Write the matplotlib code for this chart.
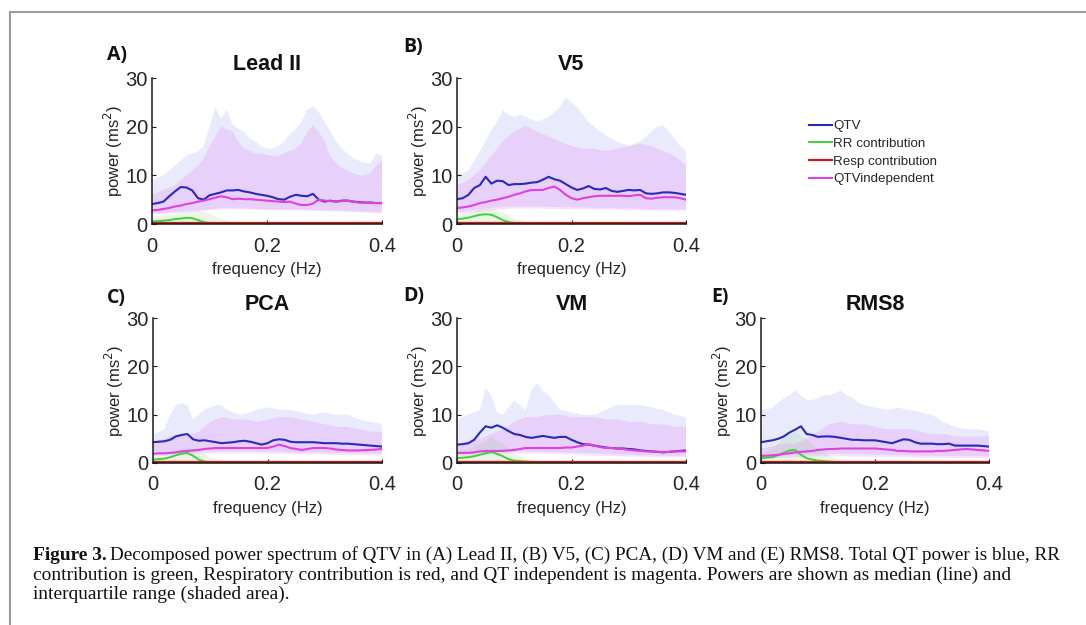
import numpy as np
import matplotlib
matplotlib.use("Agg")
import matplotlib.pyplot as plt
from matplotlib.lines import Line2D

# ---------------- data ----------------
freq_fine = [round(0.01 * i, 2) for i in range(41)]
freq_coarse = [round(0.02 * i, 2) for i in range(21)]

panel_titles = ["Lead II", "V5", "PCA", "VM", "RMS8"]
panel_letters = ["A)", "B)", "C)", "D)", "E)"]
legend_labels = ["QTV", "RR contribution", "Resp contribution", "QTVindependent"]
x_ticks = [0, 0.2, 0.4]
x_tick_labels = ["0", "0.2", "0.4"]
y_ticks = [0, 10, 20, 30]

# Lead II
leadII_qtv = [4.1, 4.3, 4.6, 5.7, 6.7, 7.6, 7.5, 6.9, 5.3, 5.0, 5.9, 6.2, 6.5, 6.9, 6.9, 7.0, 6.7, 6.5, 6.2, 6.0,
              5.8, 5.5, 5.1, 5.0, 5.6, 6.0, 5.8, 5.7, 6.2, 5.0, 4.6, 4.8, 4.6, 4.8, 4.8, 4.6, 4.5, 4.4, 4.4, 4.3, 4.3]
leadII_indep = [2.8, 2.9, 3.1, 3.3, 3.6, 3.8, 4.1, 4.3, 4.6, 4.8, 5.1, 5.4, 5.7, 5.5, 5.1, 5.2, 5.1, 5.1, 5.0, 4.9,
                4.8, 4.7, 4.6, 4.5, 4.6, 4.2, 3.9, 3.9, 4.2, 5.0, 4.8, 4.7, 4.6, 4.7, 4.8, 4.6, 4.4, 4.4, 4.3, 4.3, 4.3]
leadII_rr = [0.5, 0.6, 0.7, 0.8, 1.0, 1.1, 1.3, 1.2, 0.8, 0.4, 0.2, 0.15, 0.1, 0.1, 0.1, 0.1, 0.1, 0.1, 0.1, 0.1,
             0.1, 0.1, 0.1, 0.1, 0.1, 0.1, 0.1, 0.1, 0.1, 0.1, 0.1, 0.1, 0.1, 0.1, 0.1, 0.1, 0.1, 0.1, 0.1, 0.1, 0.1]
leadII_resp = [0.15] * 21
leadII_qtv_hi = [9.0, 9.5, 10.0, 11, 12, 13, 14, 14.5, 15, 16, 20, 24, 21.5, 23.5, 20.5, 19.5, 19, 17.5, 17, 16,
                 15.5, 15.5, 16, 17, 18.5, 19.5, 21, 23.5, 24.2, 23, 21, 19, 17, 15.5, 14.5, 13.5, 13, 12.5, 12.5, 14.5, 14]
leadII_ind_hi = [6, 6.5, 7, 7.5, 8, 9, 10, 11, 12, 13.5, 16, 18, 20, 19.5, 19, 17, 15.5, 15, 14.5, 14.5,
                 14.2, 14, 14, 14.5, 15, 15.5, 16.5, 19, 20.3, 19, 17, 14, 12.5, 11.5, 11, 10.5, 10, 10, 10.5, 12, 13]
leadII_qtv_lo = [2.2, 2.3, 2.5, 2.6, 2.8, 3.0, 3.3, 3.3, 3.2, 3.1, 3.0, 3.0, 3.0, 3.0, 2.9, 2.8, 2.8, 2.7, 2.6, 2.5, 2.4]
leadII_ind_lo = [2.0, 2.1, 2.2, 2.4, 2.6, 2.8, 3.0, 3.0, 3.0, 2.9, 2.8, 2.8, 2.8, 2.8, 2.7, 2.6, 2.6, 2.5, 2.4, 2.3, 2.2]
leadII_rr_hi = [1.5, 1.8, 2.2, 2.6, 2.8, 2.2, 1.2, 0.6, 0.4, 0.3, 0.3, 0.3, 0.3, 0.3, 0.3, 0.3, 0.3, 0.3, 0.3, 0.3, 0.3]

# V5
v5_qtv = [5.1, 5.3, 6.0, 7.4, 8.0, 9.7, 8.3, 8.9, 8.8, 8.0, 8.2, 8.2, 8.3, 8.5, 8.6, 9.1, 9.7, 9.2, 8.9, 8.2,
          7.5, 7.0, 7.3, 7.8, 7.2, 7.1, 7.4, 6.8, 6.6, 6.8, 7.0, 6.9, 7.0, 6.3, 6.2, 6.3, 6.5, 6.5, 6.4, 6.2, 6.0]
v5_indep = [3.3, 3.4, 3.6, 3.9, 4.3, 4.5, 4.8, 5.0, 5.3, 5.6, 6.0, 6.3, 6.7, 7.0, 7.0, 7.0, 7.4, 7.7, 7.0, 6.0,
            5.3, 5.0, 5.3, 5.5, 5.7, 5.8, 5.8, 5.8, 5.8, 5.8, 5.7, 5.9, 6.0, 5.3, 5.2, 5.4, 5.5, 5.5, 5.5, 5.3, 5.0]
v5_rr = [1.0, 1.1, 1.3, 1.6, 1.9, 2.0, 1.9, 1.4, 0.8, 0.4, 0.2, 0.15, 0.1, 0.1, 0.1, 0.1, 0.1, 0.1, 0.1, 0.1,
         0.1, 0.1, 0.1, 0.1, 0.1, 0.1, 0.1, 0.1, 0.1, 0.1, 0.1, 0.1, 0.1, 0.1, 0.1, 0.1, 0.1, 0.1, 0.1, 0.1, 0.1]
v5_resp = [0.15] * 21
v5_qtv_hi = [10.4, 10.5, 11, 13, 15, 17, 19.3, 21, 23.4, 22.5, 22, 22.5, 22, 21.5, 21, 21.5, 22, 23, 24, 26,
             25, 24, 22.5, 21, 20, 19, 18.3, 17.5, 17, 16.5, 16, 16.5, 17, 18, 19, 20, 20.3, 19, 17.5, 16, 15]
v5_ind_hi = [8, 8.5, 9, 10, 11, 12.5, 14, 15.5, 17, 18, 19, 19.5, 20.3, 19.5, 19, 18.5, 18, 17.5, 17, 16.5,
             16, 15.7, 15.5, 15.5, 15.5, 15.2, 15, 15.2, 15.5, 15.8, 16, 16.3, 16.5, 16.3, 16, 15.5, 15, 14.5, 14, 13, 12]
v5_qtv_lo = [2.5, 2.7, 3.0, 3.3, 3.5, 3.6, 3.6, 3.6, 3.5, 3.5, 3.4, 3.4, 3.3, 3.3, 3.2, 3.2, 3.1, 3.0, 3.0, 3.0, 3.0]
v5_ind_lo = [2.2, 2.3, 2.5, 2.8, 3.0, 3.2, 3.2, 3.2, 3.1, 3.1, 3.0, 3.0, 3.0, 2.9, 2.9, 2.8, 2.8, 2.8, 2.7, 2.7, 2.7]
v5_rr_hi = [2.0, 2.5, 3.0, 3.2, 2.5, 1.2, 0.6, 0.4, 0.3, 0.3, 0.3, 0.3, 0.3, 0.3, 0.3, 0.3, 0.3, 0.3, 0.3, 0.3, 0.3]

# PCA
pca_qtv = [4.3, 4.4, 4.5, 4.8, 5.5, 5.8, 6.0, 4.9, 4.6, 4.7, 4.5, 4.3, 4.1, 4.2, 4.3, 4.5, 4.6, 4.4, 4.1, 3.8,
           4.1, 4.7, 4.9, 4.8, 4.4, 4.3, 4.3, 4.3, 4.3, 4.2, 4.1, 4.1, 4.1, 4.0, 4.0, 3.9, 3.8, 3.7, 3.6, 3.5, 3.4]
pca_indep = [1.9, 2.0, 2.0, 2.1, 2.2, 2.4, 2.5, 2.6, 2.7, 2.9, 3.0, 3.1, 3.1, 3.1, 3.1, 3.1, 3.1, 3.1, 3.1, 3.1,
             3.1, 3.4, 3.8, 3.5, 3.1, 2.9, 2.7, 2.9, 3.1, 3.1, 3.1, 3.0, 2.8, 2.7, 2.6, 2.6, 2.6, 2.7, 2.7, 2.8, 2.9]
pca_rr = [0.7, 0.8, 0.9, 1.2, 1.6, 1.9, 2.1, 1.5, 0.7, 0.3, 0.15, 0.1, 0.1, 0.1, 0.1, 0.1, 0.1, 0.1, 0.1, 0.1,
          0.1, 0.1, 0.1, 0.1, 0.1, 0.1, 0.1, 0.1, 0.1, 0.1, 0.1, 0.1, 0.1, 0.1, 0.1, 0.1, 0.1, 0.1, 0.1, 0.1, 0.1]
pca_resp = [0.15] * 21
pca_qtv_hi = [6, 6.5, 7, 10, 12, 12.3, 12, 9, 10, 11, 11.5, 12, 12, 11, 10.5, 10, 10, 10.5, 11, 11.3,
              11.5, 11.3, 11, 11, 11, 10.8, 10.5, 10.2, 10, 10.3, 10.5, 10.2, 10, 10, 10, 9.5, 9, 8.8, 8.5, 8.3, 8]
pca_ind_hi = [4.5, 4.7, 5, 5.5, 6, 5.8, 5.5, 6, 6.5, 7.5, 8.5, 9, 9.5, 9.3, 9, 9, 9, 8.8, 8.5, 8.7,
              9, 9.3, 9.5, 9.5, 9.5, 9.3, 9, 8.8, 8.5, 8.3, 8, 7.8, 7.5, 7.5, 7.5, 7.2, 7, 6.8, 6.5, 6.5, 6.5]
pca_qtv_lo = [1.8, 1.9, 2.0, 2.2, 2.3, 2.4, 2.4, 2.4, 2.4, 2.4, 2.3, 2.3, 2.2, 2.2, 2.2, 2.1, 2.1, 2.0, 2.0, 2.0, 2.0]
pca_ind_lo = [1.4, 1.5, 1.6, 1.8, 1.9, 2.0, 2.0, 2.0, 2.0, 2.0, 1.9, 1.9, 1.8, 1.8, 1.8, 1.7, 1.7, 1.6, 1.6, 1.6, 1.6]
pca_rr_hi = [1.5, 2.0, 2.8, 3.2, 2.6, 1.2, 0.6, 0.4, 0.3, 0.3, 0.3, 0.3, 0.3, 0.3, 0.3, 0.3, 0.3, 0.3, 0.3, 0.3, 0.3]

# VM
vm_qtv = [3.8, 3.9, 4.1, 4.8, 6.3, 7.6, 7.3, 7.8, 7.3, 6.6, 6.0, 5.8, 5.4, 5.2, 5.4, 5.6, 5.4, 5.2, 5.4, 5.4,
          4.8, 4.3, 3.9, 3.8, 3.6, 3.4, 3.2, 3.1, 3.0, 3.0, 2.9, 2.8, 2.6, 2.5, 2.4, 2.3, 2.2, 2.3, 2.4, 2.5, 2.6]
vm_indep = [2.1, 2.1, 2.1, 2.2, 2.4, 2.5, 2.5, 2.5, 2.5, 2.6, 2.7, 2.9, 3.1, 3.1, 3.1, 3.1, 3.1, 3.1, 3.1, 3.2,
            3.2, 3.4, 3.6, 3.9, 3.6, 3.3, 3.1, 3.1, 3.0, 2.9, 2.7, 2.6, 2.5, 2.4, 2.4, 2.3, 2.3, 2.3, 2.4, 2.4, 2.4]
vm_rr = [1.0, 1.1, 1.2, 1.4, 1.7, 2.0, 2.3, 1.9, 1.4, 0.8, 0.5, 0.4, 0.3, 0.2, 0.1, 0.1, 0.1, 0.1, 0.1, 0.1,
         0.1, 0.1, 0.1, 0.1, 0.1, 0.1, 0.1, 0.1, 0.1, 0.1, 0.1, 0.1, 0.1, 0.1, 0.1, 0.1, 0.1, 0.1, 0.1, 0.1, 0.1]
vm_resp = [0.15] * 21
vm_qtv_hi = [8.9, 9.5, 10, 10.5, 11, 15.5, 14, 10.5, 10, 11.5, 13, 12, 11, 15, 16.5, 15, 14, 12.5, 11, 10.8,
             10.5, 10.3, 10, 10, 10, 10.5, 11, 11.5, 12, 12, 12, 12, 12, 11.8, 11.5, 11.2, 11, 10.5, 10, 9.7, 9.5]
vm_ind_hi = [4, 4.2, 4.5, 4.8, 5, 5.5, 6, 6.5, 7, 7.7, 8.5, 9, 9.5, 9.5, 9.5, 9.8, 10, 10, 10, 9.8,
             9.5, 9.5, 9.5, 9.5, 9.5, 9.3, 9, 9, 9, 8.8, 8.5, 8.5, 8.5, 8.3, 8, 8, 8, 7.8, 7.5, 7.5, 7.5]
vm_qtv_lo = [1.8, 1.9, 2.0, 2.2, 2.4, 2.4, 2.4, 2.3, 2.3, 2.2, 2.2, 2.1, 2.0, 1.9, 1.8, 1.7, 1.6, 1.6, 1.5, 1.5, 1.5]
vm_ind_lo = [1.4, 1.5, 1.6, 1.8, 1.9, 2.0, 2.0, 1.9, 1.9, 1.8, 1.8, 1.7, 1.6, 1.5, 1.4, 1.3, 1.3, 1.2, 1.2, 1.2, 1.2]
vm_rr_hi = [2.5, 3.0, 4.0, 5.5, 4.0, 2.0, 1.0, 0.5, 0.4, 0.3, 0.3, 0.3, 0.3, 0.3, 0.3, 0.3, 0.3, 0.3, 0.3, 0.3, 0.3]

# RMS8
rms8_qtv = [4.3, 4.5, 4.7, 5.0, 5.5, 6.3, 6.9, 7.6, 6.0, 5.8, 5.4, 5.5, 5.5, 5.4, 5.2, 5.0, 4.8, 4.8, 4.7, 4.7,
            4.7, 4.5, 4.3, 4.1, 4.5, 4.9, 4.8, 4.3, 4.0, 4.0, 4.0, 3.9, 3.9, 4.0, 3.6, 3.6, 3.6, 3.6, 3.6, 3.5, 3.4]
rms8_indep = [1.5, 1.5, 1.6, 1.7, 1.9, 2.0, 2.2, 2.3, 2.4, 2.5, 2.7, 2.8, 2.9, 2.9, 3.0, 3.0, 3.0, 3.0, 3.0, 3.0,
              3.0, 2.9, 2.8, 2.7, 2.5, 2.5, 2.4, 2.4, 2.4, 2.4, 2.4, 2.5, 2.5, 2.6, 2.7, 2.8, 2.9, 2.8, 2.7, 2.6, 2.5]
rms8_rr = [1.0, 1.1, 1.2, 1.6, 2.1, 2.6, 2.7, 1.7, 1.0, 0.7, 0.5, 0.4, 0.3, 0.2, 0.1, 0.1, 0.1, 0.1, 0.1, 0.1,
           0.1, 0.1, 0.1, 0.1, 0.1, 0.1, 0.1, 0.1, 0.1, 0.1, 0.1, 0.1, 0.1, 0.1, 0.1, 0.1, 0.1, 0.1, 0.1, 0.1, 0.1]
rms8_resp = [0.15] * 21
rms8_qtv_hi = [11, 11, 11.5, 12.5, 13.5, 14, 15, 14, 13, 13, 13.5, 14, 14, 14.5, 15, 14, 13.5, 12.5, 12, 11.8,
               11.5, 11.2, 11, 11.2, 11.5, 11.2, 11, 10.8, 10.5, 10.2, 10, 9.2, 8.5, 8, 7.5, 7.2, 7, 7, 7, 6.8, 6.5]
rms8_ind_hi = [3, 3.2, 3.5, 3.8, 4, 4, 4, 4.5, 5, 5.8, 6.5, 7.2, 8, 8.3, 8.5, 8.3, 8, 8, 8, 7.8,
               7.5, 7.2, 7, 7, 7, 7, 7, 6.8, 6.5, 6.2, 6, 6, 6, 5.8, 5.5, 5.5, 5.5, 5.5, 5.5, 5.5, 5.5]
rms8_qtv_lo = [1.3, 1.4, 1.5, 1.7, 1.8, 1.9, 1.9, 1.9, 1.8, 1.8, 1.7, 1.7, 1.6, 1.6, 1.5, 1.5, 1.5, 1.4, 1.4, 1.4, 1.4]
rms8_ind_lo = [1.0, 1.0, 1.1, 1.2, 1.3, 1.4, 1.4, 1.4, 1.3, 1.3, 1.3, 1.2, 1.2, 1.2, 1.1, 1.1, 1.1, 1.0, 1.0, 1.0, 1.0]
rms8_rr_hi = [2.0, 3.0, 5.5, 6.5, 5.0, 3.0, 1.5, 0.5, 0.4, 0.3, 0.3, 0.3, 0.3, 0.3, 0.3, 0.3, 0.3, 0.3, 0.3, 0.3, 0.3]

resp_hi = [0.6] * 21

caption_bold = "Figure 3."
caption_line1 = ("Decomposed power spectrum of QTV in (A) Lead II, (B) V5, (C) PCA, (D) VM and (E) RMS8. "
                 "Total QT power is blue, RR")
caption_line2 = ("contribution is green, Respiratory contribution is red, and QT independent is magenta. "
                 "Powers are shown as median (line) and")
caption_line3 = "interquartile range (shaded area)."

# ---------------- styling ----------------
W, H = 1086, 625
fig = plt.figure(figsize=(W / 100, H / 100), dpi=100)
fig.patch.set_facecolor("white")

C_QTV = "#2a2ab8"
C_RR = "#3cd23c"
C_RESP = "#c41e1e"
C_IND = "#e040e0"
SANS = "Liberation Sans"

# axes boxes in pixels: (left, top, right, bottom)
boxes = [(152, 78, 382, 224), (457, 78, 686, 224),
         (153, 318, 382, 463), (457, 318, 686, 463), (761, 318, 989, 463)]
letter_pos = [(107, 55), (403, 47), (107, 298), (403, 296), (711, 297)]

panels = [
    (leadII_qtv, leadII_rr, leadII_resp, leadII_indep, leadII_qtv_lo, leadII_qtv_hi, leadII_ind_lo, leadII_ind_hi, leadII_rr_hi),
    (v5_qtv, v5_rr, v5_resp, v5_indep, v5_qtv_lo, v5_qtv_hi, v5_ind_lo, v5_ind_hi, v5_rr_hi),
    (pca_qtv, pca_rr, pca_resp, pca_indep, pca_qtv_lo, pca_qtv_hi, pca_ind_lo, pca_ind_hi, pca_rr_hi),
    (vm_qtv, vm_rr, vm_resp, vm_indep, vm_qtv_lo, vm_qtv_hi, vm_ind_lo, vm_ind_hi, vm_rr_hi),
    (rms8_qtv, rms8_rr, rms8_resp, rms8_indep, rms8_qtv_lo, rms8_qtv_hi, rms8_ind_lo, rms8_ind_hi, rms8_rr_hi),
]

ff = np.array(freq_fine)
fc = np.array(freq_coarse)

handles = None
for i, (box, data) in enumerate(zip(boxes, panels)):
    l, t, r, b = box
    ax = fig.add_axes([l / W, 1 - b / H, (r - l) / W, (b - t) / H])
    qtv, rr, resp, ind, qlo, qhi, ilo, ihi, rrhi = data
    # shaded IQR bands
    ax.fill(np.concatenate([ff, fc[::-1]]), np.concatenate([qhi, np.array(qlo)[::-1]]),
            color="#5a6af0", alpha=0.13, lw=0)
    ax.fill(np.concatenate([ff, fc[::-1]]), np.concatenate([ihi, np.array(ilo)[::-1]]),
            color="#e060f0", alpha=0.18, lw=0)
    ax.fill_between(fc, 0, rrhi, color="#80c060", alpha=0.15, lw=0)
    ax.fill_between(fc, 0, resp_hi, color="#f0c060", alpha=0.15, lw=0)
    # median lines
    h1, = ax.plot(ff, qtv, color=C_QTV, lw=1.5)
    h2, = ax.plot(ff, rr, color=C_RR, lw=1.4)
    h3, = ax.plot(fc, resp, color=C_RESP, lw=1.6)
    h4, = ax.plot(ff, ind, color=C_IND, lw=1.5)
    if handles is None:
        handles = [h1, h2, h3, h4]

    ax.set_xlim(0, 0.4)
    ax.set_ylim(0, 30)
    ax.set_xticks(x_ticks)
    ax.set_xticklabels(x_tick_labels)
    ax.set_yticks(y_ticks)
    for s in ["top", "right"]:
        ax.spines[s].set_visible(False)
    for s in ["left", "bottom"]:
        ax.spines[s].set_color("#1a1a1a")
        ax.spines[s].set_linewidth(1.1)
    ax.patch.set_alpha(0)
    ax.tick_params(axis="both", direction="in", length=3, width=0.8, colors="#1a1a1a",
                   labelsize=14.5, labelcolor="#262626")
    ax.tick_params(axis="x", pad=9)
    ax.tick_params(axis="y", pad=3)
    for lab in ax.get_xticklabels() + ax.get_yticklabels():
        lab.set_fontfamily(SANS)
    ax.set_xlabel("frequency (Hz)", fontsize=12, family=SANS, color="#262626", labelpad=5)
    ax.set_ylabel("power (ms$^2$)", fontsize=12, family=SANS, color="#262626", labelpad=0)
    ax.set_title(panel_titles[i], fontsize=15.5, fontweight="bold", family=SANS, pad=6, color="#111111")
    lx, ly = letter_pos[i]
    fig.text(lx / W, 1 - ly / H, panel_letters[i], fontsize=14, fontweight="bold",
             family="Open Sans", va="center", ha="left", color="#111111")

leg = fig.legend(handles, legend_labels, loc="upper left", bbox_to_anchor=(809 / W, 1 - 120 / H),
                 frameon=False, prop={"family": SANS, "size": 9.6}, handlelength=1.7,
                 handletextpad=0.1, labelspacing=0.4, borderaxespad=0, borderpad=0)
for txt in leg.get_texts():
    txt.set_color("#262626")

# border lines (gray frame of the figure panel)
fig.add_artist(Line2D([10 / W, 1.0], [1 - 12 / H, 1 - 12 / H], color="#9a9a9a", lw=1.5,
                      transform=fig.transFigure))
fig.add_artist(Line2D([10 / W, 10 / W], [1 - 12 / H, 0.0], color="#9a9a9a", lw=1.5,
                      transform=fig.transFigure))

# caption
renderer = fig.canvas.get_renderer()
CAP_FONT = "Liberation Serif"
probe = fig.text(0, 0, caption_line2, fontsize=12, family=CAP_FONT)
w2 = probe.get_window_extent(renderer).width
probe.remove()
cap_size = 12 * 975 / w2
x0 = 33
tb = fig.text(x0 / W, 1 - 555 / H, caption_bold, fontsize=cap_size, family=CAP_FONT,
              fontweight="bold", va="center", ha="left", color="#111111")
bb = tb.get_window_extent(renderer)
fig.text((bb.x1 + 3) / W, 1 - 555 / H, caption_line1, fontsize=cap_size * 0.985, family=CAP_FONT,
         va="center", ha="left", color="#111111")
fig.text(x0 / W, 1 - 575 / H, caption_line2, fontsize=cap_size, family=CAP_FONT,
         va="center", ha="left", color="#111111")
fig.text(x0 / W, 1 - 594 / H, caption_line3, fontsize=cap_size, family=CAP_FONT,
         va="center", ha="left", color="#111111")

fig.savefig("out.png", dpi=100, facecolor="white")
